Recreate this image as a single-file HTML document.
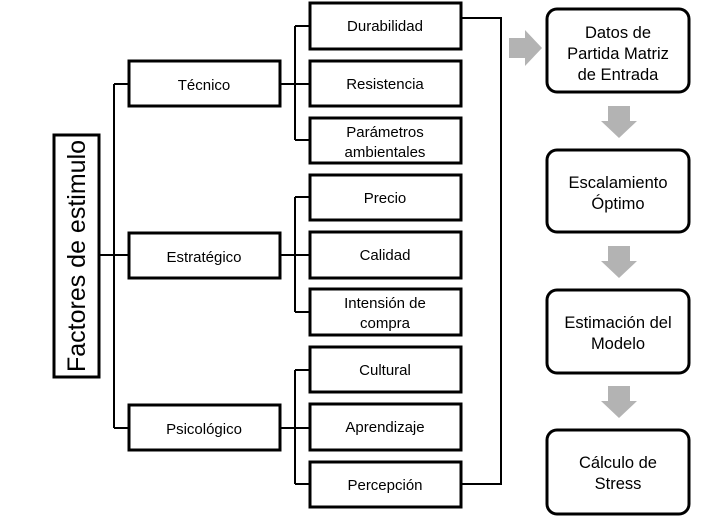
<!DOCTYPE html>
<html><head><meta charset="utf-8"><style>
html,body{margin:0;padding:0;background:#fff;}
svg{display:block;}
text{font-family:"Liberation Sans",sans-serif;font-size:15px;fill:#000;text-anchor:middle;}
.r{font-size:16.5px;}
</style></head><body>
<svg width="718" height="520" viewBox="0 0 718 520" xmlns="http://www.w3.org/2000/svg">
<g stroke="#000" stroke-width="2" fill="none">
<path d="M99 255 H114 M114 84 V428 M114 84 H129 M114 255 H129 M114 428 H129"/>
<path d="M280 84 H310 M295 26 V140 M295 26 H310 M295 140 H310"/>
<path d="M280 255 H310 M295 197 V312 M295 197 H310 M295 312 H310"/>
<path d="M280 428 H310 M295 370 V484 M295 370 H310 M295 484 H310"/>
<path d="M461 18 H501 V484 H461"/>
</g>
<g stroke="#000" stroke-width="3" fill="#fff">
<rect x="54" y="135" width="45" height="242"/>
<rect x="129" y="61" width="151" height="45"/>
<rect x="129" y="233" width="151" height="45"/>
<rect x="129" y="405" width="151" height="45"/>
<rect x="310" y="3" width="151" height="46"/>
<rect x="310" y="61" width="151" height="45"/>
<rect x="310" y="118" width="151" height="45"/>
<rect x="310" y="175" width="151" height="45"/>
<rect x="310" y="232" width="151" height="46"/>
<rect x="310" y="289" width="151" height="46"/>
<rect x="310" y="347" width="151" height="45"/>
<rect x="310" y="404" width="151" height="46"/>
<rect x="310" y="462" width="151" height="45"/>
<rect x="547" y="9" width="142" height="83" rx="10"/>
<rect x="547" y="150" width="142" height="82" rx="10"/>
<rect x="547" y="290" width="142" height="83" rx="10"/>
<rect x="547" y="430" width="142" height="84" rx="10"/>
</g>
<g fill="#b3b3b3">
<polygon points="509,38 525,38 525,30 542,48 525,66 525,58 509,58"/>
<polygon points="608,106 630,106 630,121 637,121 619,138 601,121 608,121"/>
<polygon points="608,246 630,246 630,261 637,261 619,278 601,261 608,261"/>
<polygon points="608,386 630,386 630,401 637,401 619,418 601,401 608,401"/>
</g>
<text x="0" y="0" transform="translate(85,256) rotate(-90)" style="font-size:25px">Factores  de estimulo</text>
<text x="204" y="90">Técnico</text>
<text x="204" y="262">Estratégico</text>
<text x="204" y="434">Psicológico</text>
<text x="385" y="31">Durabilidad</text>
<text x="385" y="89">Resistencia</text>
<text x="385" y="137">Parámetros</text>
<text x="385" y="157">ambientales</text>
<text x="385" y="203">Precio</text>
<text x="385" y="260">Calidad</text>
<text x="385" y="308">Intensión de</text>
<text x="385" y="328">compra</text>
<text x="385" y="375">Cultural</text>
<text x="385" y="432">Aprendizaje</text>
<text x="385" y="490">Percepción</text>
<text class="r" x="618" y="38">Datos de</text>
<text class="r" x="618" y="59">Partida Matriz</text>
<text class="r" x="618" y="80">de Entrada</text>
<text class="r" x="618" y="188">Escalamiento</text>
<text class="r" x="618" y="209">Óptimo</text>
<text class="r" x="618" y="328">Estimación del</text>
<text class="r" x="618" y="349">Modelo</text>
<text class="r" x="618" y="468">Cálculo de</text>
<text class="r" x="618" y="489">Stress</text>
</svg>
</body></html>
